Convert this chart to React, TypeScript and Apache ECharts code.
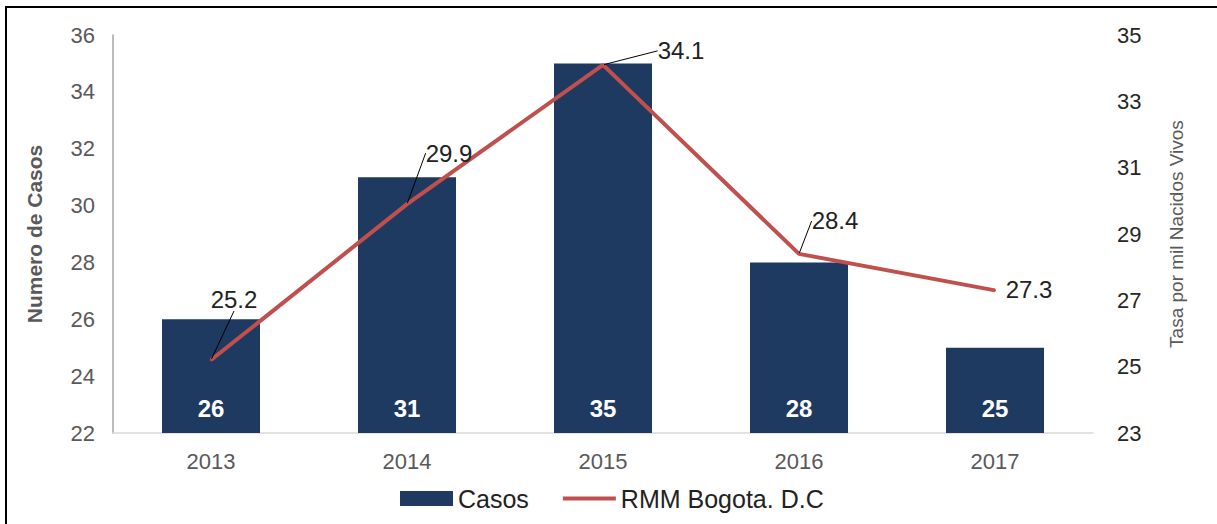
import React, { useEffect, useRef } from "react";
import * as echarts from "echarts";

const categories = ["2013", "2014", "2015", "2016", "2017"];
const casos = [26, 31, 35, 28, 25];
const rmm = [25.2, 29.9, 34.1, 28.4, 27.3];
const labelOffsets = [
  [23, -43],
  [42, -33],
  [78, 4],
  [36, -15],
  [34, 17],
];
const hideLeader = [false, false, false, false, true];

const FONT = "Liberation Sans, Arial, sans-serif";

export default function App() {
  const ref = useRef<HTMLDivElement>(null);
  useEffect(() => {
    const chart = echarts.init(ref.current!, null, { renderer: "svg" });
    chart.setOption({
      animation: false,
      textStyle: { fontFamily: FONT },
      graphic: [
        {
          type: "rect",
          shape: { x: 6, y: 7, width: 1400, height: 700 },
          style: { fill: "none", stroke: "#000", lineWidth: 2 },
          silent: true,
        },
      ],
      grid: { left: 113, right: 124, top: 35, bottom: 91, containLabel: false },
      legend: {
        bottom: 8,
        left: 395,
        itemWidth: 53,
        itemHeight: 15,
        itemGap: 34,
        textStyle: { fontSize: 25, color: "#222", fontFamily: FONT },
        data: [
          { name: "Casos", icon: "rect" },
          { name: "RMM Bogota. D.C", icon: "path://M0,0H52V4H0Z" },
        ],
      },
      xAxis: {
        type: "category",
        data: categories,
        axisLine: { lineStyle: { color: "#d9d9d9", width: 1.5 } },
        axisTick: { show: false },
        axisLabel: { fontSize: 22, color: "#595959", margin: 17 },
      },
      yAxis: [
        {
          type: "value",
          min: 22,
          max: 36,
          interval: 2,
          name: "Numero de Casos",
          nameLocation: "middle",
          nameRotate: 90,
          nameGap: 68,
          nameTextStyle: { fontSize: 21, fontWeight: "bold", color: "#595959" },
          axisLine: { show: true, lineStyle: { color: "#a6a6a6", width: 1.5 } },
          axisTick: { show: false },
          splitLine: { show: false },
          axisLabel: { fontSize: 22, color: "#595959", margin: 18 },
        },
        {
          type: "value",
          min: 23,
          max: 35,
          interval: 2,
          position: "right",
          name: "Tasa por mil Nacidos Vivos",
          nameLocation: "middle",
          nameRotate: 90,
          nameGap: 74,
          nameTextStyle: { fontSize: 19, color: "#595959" },
          axisLine: { show: false },
          axisTick: { show: false },
          splitLine: { show: false },
          axisLabel: { fontSize: 22, color: "#262626", margin: 24 },
        },
      ],
      series: [
        {
          name: "Casos",
          type: "bar",
          data: casos,
          barWidth: "50%",
          itemStyle: { color: "#1f3a60" },
          label: {
            show: true,
            position: "insideBottom",
            distance: 13,
            color: "#fff",
            fontWeight: "bold",
            fontSize: 24,
          },
        },
        {
          name: "RMM Bogota. D.C",
          type: "line",
          yAxisIndex: 1,
          data: rmm.map((v, i) => (hideLeader[i] ? { value: v, labelLine: { show: false } } : v)),
          symbol: "circle",
          symbolSize: 2,
          lineStyle: { color: "#c0504d", width: 4 },
          itemStyle: { color: "#c0504d" },
          label: {
            show: true,
            position: "top",
            fontSize: 24,
            color: "#222",
          },
          labelLine: { show: true, lineStyle: { color: "#000", width: 1 } },
          labelLayout: (params: any) => {
            const o = labelOffsets[params.dataIndex] || [0, 0];
            return { dx: o[0], dy: o[1] };
          },
          z: 5,
        },
      ],
    });
    return () => chart.dispose();
  }, []);
  return (
    <div
      ref={ref}
      style={{ position: "fixed", left: 0, top: 0, width: 1217, height: 524, background: "#fff" }}
    />
  );
}
